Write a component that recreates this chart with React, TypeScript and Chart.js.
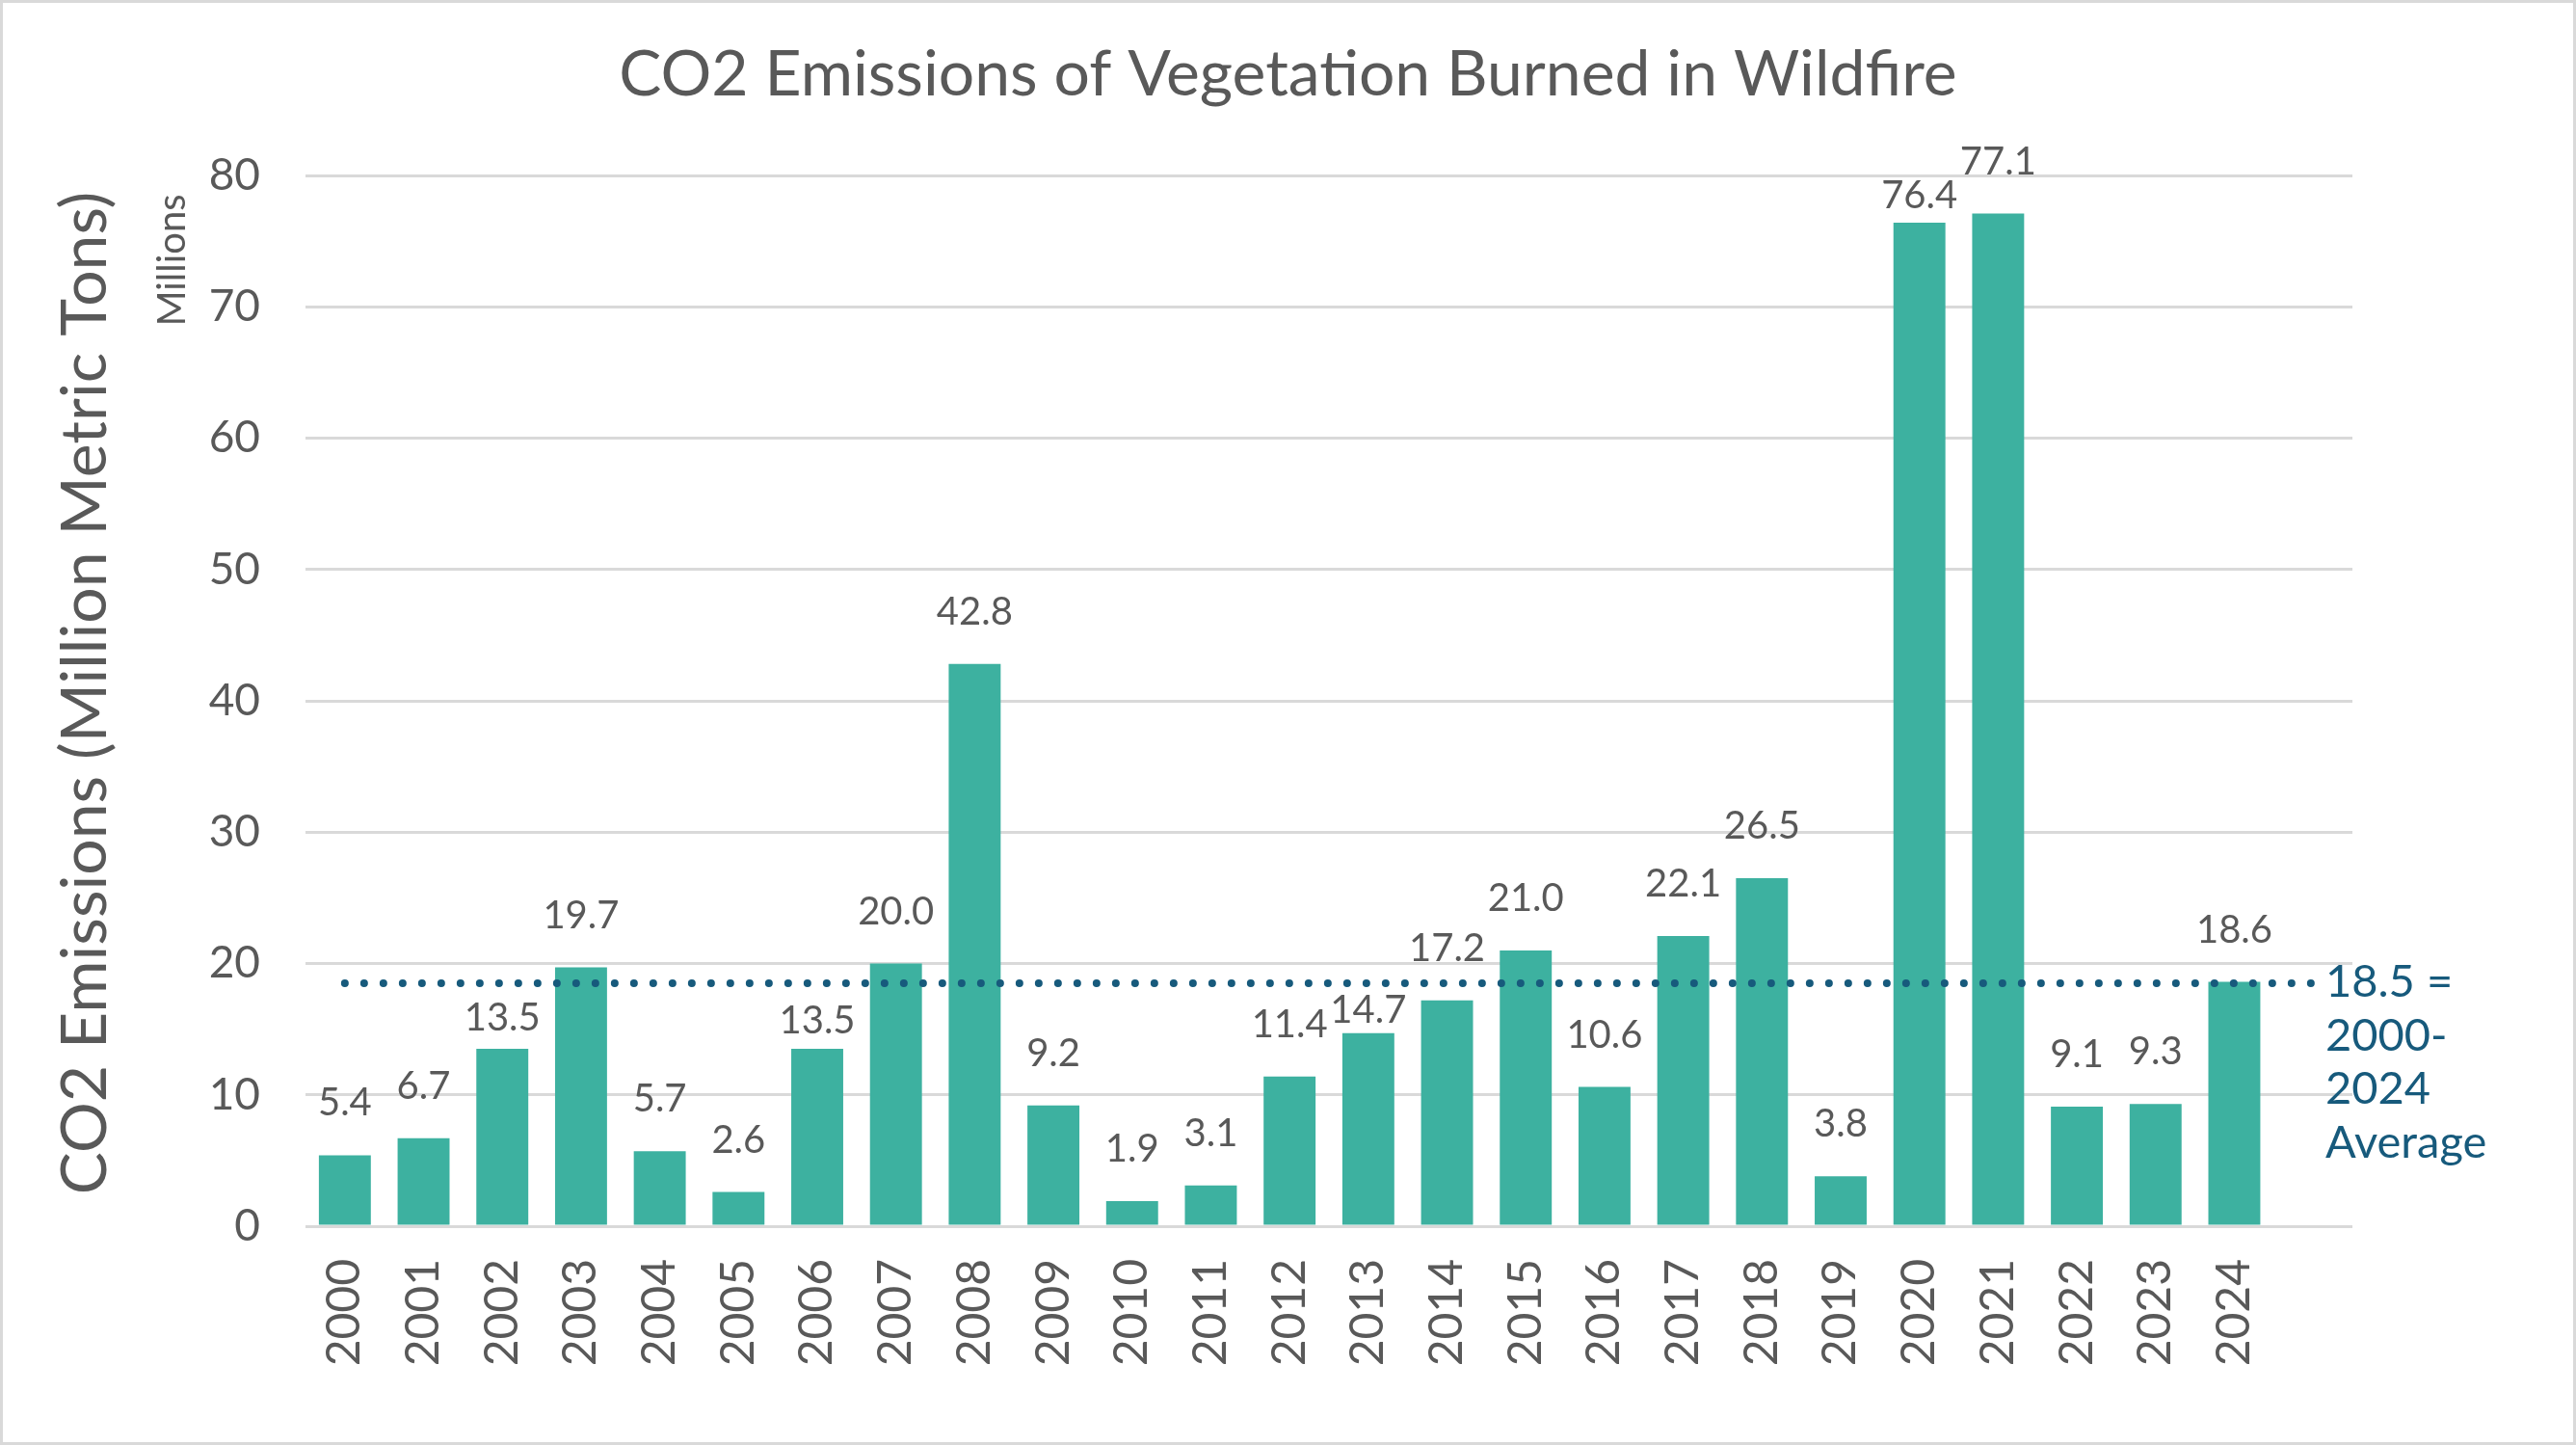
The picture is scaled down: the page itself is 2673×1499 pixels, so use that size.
import { useEffect, useRef } from 'react';
import { Chart, registerables } from 'chart.js';

Chart.register(...registerables);

// years (last slot left empty, Excel keeps room there for the average label)
const years = [
  '2000', '2001', '2002', '2003', '2004', '2005', '2006', '2007', '2008', '2009',
  '2010', '2011', '2012', '2013', '2014', '2015', '2016', '2017', '2018', '2019',
  '2020', '2021', '2022', '2023', '2024', ''
];

// CO2 emissions, millions of metric tons
const emissions = [
  5.4, 6.7, 13.5, 19.7, 5.7, 2.6, 13.5, 20.0, 42.8, 9.2,
  1.9, 3.1, 11.4, 14.7, 17.2, 21.0, 10.6, 22.1, 26.5, 3.8,
  76.4, 77.1, 9.1, 9.3, 18.6, null
];

const averageValue = 18.5;
const averageLabel = ['18.5 =', '2000-', '2024', 'Average'];
const yTicks = [0, 10, 20, 30, 40, 50, 60, 70, 80];

// labels that were dragged down in the original to clear the average line / each other
const labelNudge: Record<string, number> = { '2002': 22, '2006': 25, '2013': 30, '2020': 26 };

const W = 2673;
const H = 1499;
const FONT = 'Lato, "Open Sans", sans-serif';
const GREY = '#595959';
const BAR = '#3DB1A0';
const NAVY = '#175A7C';

const decor = {
  id: 'decor',
  afterDraw(chart: Chart) {
    const { ctx, chartArea } = chart;
    ctx.save();

    // outer frame
    ctx.strokeStyle = '#D9D9D9';
    ctx.lineWidth = 3;
    ctx.strokeRect(1.5, 1.5, W - 3, H - 3);

    // title
    ctx.fillStyle = GREY;
    ctx.font = `66px ${FONT}`;
    ctx.textAlign = 'center';
    ctx.textBaseline = 'middle';
    ctx.fillText('CO2 Emissions of Vegetation Burned in Wildfire', W / 2, 78);

    // y axis title + units
    ctx.save();
    ctx.translate(89, (chartArea.top + chartArea.bottom) / 2 - 8);
    ctx.rotate(-Math.PI / 2);
    ctx.font = `66px ${FONT}`;
    ctx.fillText('CO2 Emissions (Million Metric Tons)', 0, 0);
    ctx.restore();

    ctx.save();
    ctx.translate(179, 270);
    ctx.rotate(-Math.PI / 2);
    ctx.font = `40px ${FONT}`;
    ctx.fillText('Millions', 0, 0);
    ctx.restore();

    // value labels
    const meta = chart.getDatasetMeta(1);
    ctx.font = `40px ${FONT}`;
    ctx.textAlign = 'center';
    ctx.textBaseline = 'alphabetic';
    meta.data.forEach((el: any, i: number) => {
      const v = emissions[i];
      if (v == null) return;
      const nudge = labelNudge[years[i]] || 0;
      ctx.fillText(v.toFixed(1), el.x, el.y - 41 + nudge);
    });

    // average label
    ctx.fillStyle = NAVY;
    ctx.font = `47px ${FONT}`;
    ctx.textAlign = 'left';
    ctx.textBaseline = 'middle';
    averageLabel.forEach((t, i) => {
      ctx.fillText(t, 2413, 1019 + i * 55.5);
    });

    ctx.restore();
  }
};

export default function App() {
  const chartRef = useRef<HTMLCanvasElement>(null);
  const chartInstance = useRef<Chart | null>(null);

  useEffect(() => {
    document.body.style.margin = '0';
    document.body.style.background = '#ffffff';
    if (!chartRef.current) return;
    if (chartInstance.current) chartInstance.current.destroy();
    const ctx = chartRef.current.getContext('2d');
    if (!ctx) return;

    chartInstance.current = new Chart(ctx, {
      type: 'bar',
      data: {
        labels: years,
        datasets: [
          {
            type: 'line',
            label: 'Average',
            data: years.map(() => averageValue),
            borderColor: NAVY,
            borderWidth: 8,
            borderDash: [0, 20],
            borderCapStyle: 'round',
            pointRadius: 0,
            fill: false,
            order: 1
          } as any,
          {
            label: 'CO2 Emissions',
            data: emissions,
            backgroundColor: BAR,
            barPercentage: 0.66,
            categoryPercentage: 1,
            order: 2
          }
        ]
      },
      options: {
        responsive: false,
        animation: false,
        devicePixelRatio: 1,
        layout: { padding: { left: 0, top: 182, right: 232, bottom: 0 } },
        plugins: {
          legend: { display: false },
          tooltip: { enabled: false },
          title: { display: false }
        },
        scales: {
          x: {
            offset: true,
            grid: { display: false, drawTicks: false },
            border: { display: false },
            ticks: {
              color: GREY,
              font: { family: FONT, size: 48 },
              maxRotation: 90,
              minRotation: 90,
              padding: 34,
              autoSkip: false
            },
            afterFit(scale: any) {
              scale.height = 227;
            }
          },
          y: {
            min: 0,
            max: 80,
            afterBuildTicks(scale: any) {
              scale.ticks = yTicks.map((v) => ({ value: v }));
            },
            grid: { color: '#D9D9D9', lineWidth: 3, drawTicks: false },
            border: { display: false },
            ticks: {
              color: GREY,
              font: { family: FONT, size: 46 },
              padding: 47
            },
            afterFit(scale: any) {
              scale.width = 317;
            }
          }
        }
      },
      plugins: [decor]
    });

    return () => {
      if (chartInstance.current) {
        chartInstance.current.destroy();
        chartInstance.current = null;
      }
    };
  }, []);

  return (
    <div style={{ width: W, height: H, background: '#ffffff' }}>
      <canvas ref={chartRef} width={W} height={H} style={{ display: 'block' }}></canvas>
    </div>
  );
}
